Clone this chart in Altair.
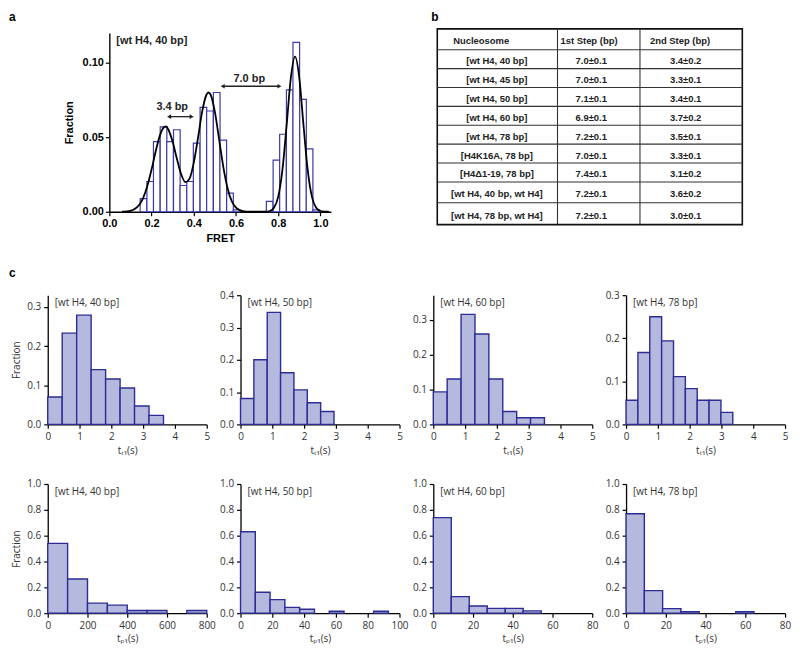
import altair as alt
import pandas as pd

# ---------------- panel a : FRET histogram ----------------
fret_bin_start = [0.146, 0.178, 0.209, 0.241, 0.272, 0.304, 0.335, 0.367, 0.398, 0.430,
                  0.461, 0.493, 0.524, 0.556, 0.587,
                  0.744, 0.776, 0.807, 0.839, 0.870, 0.902, 0.933, 0.965]
fret_bin_width = 0.0315
fret_fraction = [0.0088, 0.0203, 0.047, 0.057, 0.047, 0.055, 0.0176, 0.0203, 0.046, 0.070,
                 0.0676, 0.080, 0.048, 0.0125, 0.0013,
                 0.0069, 0.0346, 0.052, 0.0817, 0.1136, 0.0754, 0.0422, 0.0013]
fit_fret = [0.06, 0.08, 0.10, 0.12, 0.14, 0.16, 0.18, 0.20, 0.22, 0.24, 0.26, 0.27, 0.28, 0.30,
            0.32, 0.34, 0.36, 0.38, 0.40, 0.42, 0.44, 0.46, 0.47, 0.48, 0.50, 0.52, 0.54, 0.56,
            0.58, 0.60, 0.62, 0.64, 0.66, 0.70, 0.74, 0.76, 0.78, 0.80, 0.82, 0.84, 0.86,
            0.88, 0.90, 0.92, 0.94, 0.96, 0.98, 1.00, 1.02, 1.04]
fit_fraction = [0.0000, 0.0002, 0.0006, 0.0018, 0.0043, 0.0092, 0.0173, 0.0283, 0.0408,
                0.0514, 0.0568, 0.0573, 0.0550, 0.0469, 0.0355, 0.0253, 0.0199, 0.0222, 0.0329,
                0.0496, 0.0673, 0.0785, 0.0800, 0.0785, 0.0670, 0.0486, 0.0301, 0.0158, 0.0071,
                0.0028, 0.0009, 0.0002, 0.0000, 0.0000, 0.0001, 0.0005, 0.0027, 0.0100,
                0.0279, 0.0580, 0.0899, 0.1040, 0.0899, 0.0580, 0.0279, 0.0100, 0.0027,
                0.0005, 0.0001, 0.0000]
ann_text = ["3.4 bp", "7.0 bp"]
ann_x = [0.298, 0.663]
ann_y = [0.0704, 0.0893]
arrow_x1 = [0.283, 0.537]
arrow_x2 = [0.390, 0.806]
arrow_y = [0.0638, 0.0842]

# ---------------- table b ----------------
table_header = ["Nucleosome", "1st Step (bp)", "2nd Step (bp)"]
nucleosome = ["[wt H4, 40 bp]", "[wt H4, 45 bp]", "[wt H4, 50 bp]", "[wt H4, 60 bp]",
              "[wt H4, 78 bp]", "[H4K16A, 78 bp]", "[H4\u03941-19, 78 bp]",
              "[wt H4, 40 bp, wt H4]", "[wt H4, 78 bp, wt H4]"]
first_step = ["7.0\u00b10.1", "7.0\u00b10.1", "7.1\u00b10.1", "6.9\u00b10.1", "7.2\u00b10.1",
              "7.0\u00b10.1", "7.4\u00b10.1", "7.2\u00b10.1", "7.2\u00b10.1"]
second_step = ["3.4\u00b10.2", "3.3\u00b10.1", "3.4\u00b10.1", "3.7\u00b10.2", "3.5\u00b10.1",
               "3.3\u00b10.1", "3.1\u00b10.2", "3.6\u00b10.2", "3.0\u00b10.1"]

# ---------------- panel c : dwell time histograms ----------------
panel_labels = ["[wt H4, 40 bp]", "[wt H4, 50 bp]", "[wt H4, 60 bp]", "[wt H4, 78 bp]"]
tT1_bin_width = [0.455, 0.42, 0.437, 0.373]
tT1_fraction = [
    [0.070, 0.233, 0.279, 0.140, 0.116, 0.093, 0.047, 0.023],
    [0.080, 0.200, 0.347, 0.160, 0.107, 0.067, 0.040],
    [0.093, 0.130, 0.315, 0.259, 0.130, 0.037, 0.019, 0.019],
    [0.056, 0.167, 0.250, 0.194, 0.111, 0.083, 0.056, 0.056, 0.028],
]
tT1_xmax = [5, 5, 5, 5]
tT1_xticks = [[0, 1, 2, 3, 4, 5]] * 4
tT1_ymax = [0.33, 0.40, 0.37, 0.30]
tT1_yticks = [[0, 0.1, 0.2, 0.3], [0, 0.1, 0.2, 0.3, 0.4], [0, 0.1, 0.2, 0.3], [0, 0.1, 0.2, 0.3]]

tP1_bin_width = [100, 9.3, 9.05, 9.2]
tP1_fraction = [
    [0.540, 0.265, 0.078, 0.062, 0.021, 0.021, 0.0, 0.021],
    [0.630, 0.162, 0.105, 0.045, 0.030, 0.0, 0.015, 0.0, 0.0, 0.015],
    [0.740, 0.128, 0.056, 0.037, 0.037, 0.018],
    [0.770, 0.175, 0.035, 0.012, 0.0, 0.0, 0.012],
]
tP1_xmax = [800, 100, 80, 80]
tP1_xticks = [[0, 200, 400, 600, 800], [0, 20, 40, 60, 80, 100], [0, 20, 40, 60, 80], [0, 20, 40, 60, 80]]
tP1_ymax = [1.0, 1.0, 1.0, 1.0]
tP1_yticks = [[0, 0.2, 0.4, 0.6, 0.8, 1.0]] * 4

# ---------------- styles ----------------
BOLD_FONT = "Liberation Sans"
C_FONT = "Open Sans"
C_TEXT = "#333333"
FILL = "#b6b9de"
EDGE = "#2c2c94"


def one_row():
    return pd.DataFrame({"k": [0]})


def spacer(w):
    return alt.Chart(one_row()).mark_point(opacity=0).encode(
        x=alt.value(0), y=alt.value(0)).properties(width=w, height=10)


def note(text, x, y, size, bold=False, font=BOLD_FONT, color="black", baseline="top", opacity=1):
    return alt.Chart(one_row()).mark_text(
        text=text, align="left", baseline=baseline, font=font,
        fontWeight="bold" if bold else "normal", fontSize=size, color=color, opacity=opacity
    ).encode(x=alt.value(x), y=alt.value(y))


# ---------------- panel a ----------------
a_bars = pd.DataFrame({"start": fret_bin_start,
                       "end": [s + fret_bin_width for s in fret_bin_start],
                       "frac": fret_fraction,
                       "base": [0.0] * len(fret_bin_start)})
a_fit = pd.DataFrame({"fret": fit_fret, "frac": fit_fraction})
a_ann = pd.DataFrame({"text": ann_text, "x": ann_x, "y": ann_y})
a_arr = pd.DataFrame({"x1": arrow_x1, "x2": arrow_x2, "y": arrow_y})

ax_a = dict(labelFont=BOLD_FONT, labelFontWeight="bold", labelFontSize=11, labelColor="black",
            titleFont=BOLD_FONT, titleFontWeight="bold", titleFontSize=11, titleColor="black",
            domainColor="black", domainWidth=1.4, tickColor="black", tickWidth=1.2, tickSize=4,
            labelPadding=2, grid=False)
xs_a = alt.Scale(domain=[0, 1.05], nice=False, zero=False)
ys_a = alt.Scale(domain=[0, 0.12], nice=False)

bars_a = alt.Chart(a_bars).mark_rect(fill="white", stroke="#3a3aae", strokeWidth=1.2).encode(
    x=alt.X("start:Q", scale=xs_a,
            axis=alt.Axis(values=[0, 0.2, 0.4, 0.6, 0.8, 1.0], format=".1f", title="FRET",
                          labelFlush=False, titlePadding=4, **ax_a)),
    x2="end:Q",
    y=alt.Y("frac:Q", scale=ys_a,
            axis=alt.Axis(values=[0, 0.05, 0.10], format=".2f", title="Fraction",
                          titlePadding=8, **ax_a)),
    y2="base:Q",
)
fit_a = alt.Chart(a_fit).mark_line(color="black", strokeWidth=1.8, interpolate="monotone").encode(
    x=alt.X("fret:Q", scale=xs_a), y=alt.Y("frac:Q", scale=ys_a))
ann_a = alt.Chart(a_ann).mark_text(font=BOLD_FONT, fontWeight="bold", fontSize=11,
                                   color="#222222").encode(
    x=alt.X("x:Q", scale=xs_a), y=alt.Y("y:Q", scale=ys_a), text="text:N")
rule_a = alt.Chart(a_arr).mark_rule(color="#222222", strokeWidth=1.3).encode(
    x=alt.X("x1:Q", scale=xs_a), x2="x2:Q", y=alt.Y("y:Q", scale=ys_a))
left_head = alt.Chart(a_arr).mark_point(shape="triangle-left", filled=True, size=22,
                                        color="#222222", opacity=1).encode(
    x=alt.X("x1:Q", scale=xs_a), y=alt.Y("y:Q", scale=ys_a))
right_head = alt.Chart(a_arr).mark_point(shape="triangle-right", filled=True, size=22,
                                         color="#222222", opacity=1).encode(
    x=alt.X("x2:Q", scale=xs_a), y=alt.Y("y:Q", scale=ys_a))
label_a = note("[wt H4, 40 bp]", 7, 8, 11, bold=True, color="#222222", baseline="middle")
letter_a = note("a", -101, -21, 12, bold=True)
panel_a = alt.layer(bars_a, fit_a, rule_a, left_head, right_head, ann_a, label_a, letter_a
                    ).properties(width=223, height=180)

# ---------------- table b ----------------
col_edges = [0, 121, 204, 307]
row_edges = [0, 21, 40, 59, 78, 97, 116, 135, 154, 175, 197]
header_x = [16, 124, 214]
cell_x = [60, 155, 250]
tx = alt.Scale(domain=[0, 307], nice=False, zero=False)
ty = alt.Scale(domain=[4, 197], nice=False, zero=False, reverse=True)

hdr = pd.DataFrame({"x": header_x, "y": [12.5] * 3, "text": table_header})
cells = []
for i in range(len(nucleosome)):
    yc = (row_edges[i + 1] + row_edges[i + 2]) / 2 + 2
    for cx, txt in zip(cell_x, [nucleosome[i], first_step[i], second_step[i]]):
        cells.append({"x": cx, "y": yc, "text": txt})
cells = pd.DataFrame(cells)
hlines = pd.DataFrame({"x1": [col_edges[0]] * 9, "x2": [col_edges[-1]] * 9, "y": row_edges[1:-1]})
vlines = pd.DataFrame({"x": col_edges[1:-1], "y1": [row_edges[0]] * 2, "y2": [row_edges[-1]] * 2})
frame = pd.DataFrame({"x1": [col_edges[0]], "x2": [col_edges[-1]],
                      "y1": [row_edges[0]], "y2": [row_edges[-1]]})

t_frame = alt.Chart(frame).mark_rect(fill="white", stroke="#111111", strokeWidth=1.6).encode(
    x=alt.X("x1:Q", scale=tx, axis=None), x2="x2:Q",
    y=alt.Y("y1:Q", scale=ty, axis=None), y2="y2:Q")
t_h = alt.Chart(hlines).mark_rule(color="#333333", strokeWidth=1.1).encode(
    x=alt.X("x1:Q", scale=tx, axis=None), x2="x2:Q", y=alt.Y("y:Q", scale=ty, axis=None))
t_v = alt.Chart(vlines).mark_rule(color="#333333", strokeWidth=1.1).encode(
    x=alt.X("x:Q", scale=tx, axis=None), y=alt.Y("y1:Q", scale=ty, axis=None), y2="y2:Q")
t_hdr = alt.Chart(hdr).mark_text(align="left", baseline="middle", font=BOLD_FONT,
                                 fontWeight="bold", fontSize=9.5, color="#222222").encode(
    x=alt.X("x:Q", scale=tx, axis=None), y=alt.Y("y:Q", scale=ty, axis=None), text="text:N")
t_cells = alt.Chart(cells).mark_text(align="center", baseline="middle", font=BOLD_FONT,
                                     fontWeight="bold", fontSize=9.5, color="#222222").encode(
    x=alt.X("x:Q", scale=tx, axis=None), y=alt.Y("y:Q", scale=ty, axis=None), text="text:N")
letter_b = note("b", -6, -21, 12, bold=True)
table_b = alt.layer(t_frame, t_h, t_v, t_hdr, t_cells, letter_b).properties(width=307, height=193)

row1 = alt.hconcat(spacer(62), panel_a, spacer(107), table_b, spacing=0, bounds="flush")

# ---------------- panel c ----------------
ax_c = dict(labelFont=C_FONT, labelFontSize=10, labelColor=C_TEXT,
            titleFont=C_FONT, titleFontSize=10, titleFontWeight="normal", titleColor=C_TEXT,
            domainColor="black", domainWidth=1.3, tickColor="black", tickWidth=1.2, tickSize=4,
            labelPadding=3, grid=False)


def hist_panel(bw, fracs, xmax, xticks, ymax, yticks, label, xtitle, first_col, letter):
    rows = [{"start": i * bw, "end": (i + 1) * bw, "frac": f, "base": 0.0}
            for i, f in enumerate(fracs) if f > 0]
    df = pd.DataFrame(rows)
    if first_col:
        yaxis = alt.Axis(values=yticks, format=".1f", title="Fraction", titlePadding=5, **ax_c)
    else:
        yaxis = alt.Axis(values=yticks, format=".1f", title="", **ax_c)
    bars = alt.Chart(df).mark_rect(fill=FILL, stroke=EDGE, strokeWidth=1.4).encode(
        x=alt.X("start:Q", scale=alt.Scale(domain=[0, xmax], nice=False, zero=True),
                axis=alt.Axis(values=xticks, format="d", title=xtitle, labelFlush=False,
                              titlePadding=4, **ax_c)),
        x2="end:Q",
        y=alt.Y("frac:Q", scale=alt.Scale(domain=[0, ymax], nice=False), axis=yaxis),
        y2="base:Q",
    )
    lab = note(label, 7, 8, 10, font=C_FONT, color=C_TEXT, baseline="middle")
    layers = [bars, lab]
    if letter:
        layers.append(note(letter, -39, -27, 12, bold=True))
    return alt.layer(*layers).properties(width=160, height=130)


row2 = alt.hconcat(*[
    hist_panel(tT1_bin_width[k], tT1_fraction[k], tT1_xmax[k], tT1_xticks[k],
               tT1_ymax[k], tT1_yticks[k], panel_labels[k], "t\u209c\u2081(s)",
               k == 0, "c" if k == 0 else None) for k in range(4)], spacing=34, bounds="flush")
row3 = alt.hconcat(*[
    hist_panel(tP1_bin_width[k], tP1_fraction[k], tP1_xmax[k], tP1_xticks[k],
               tP1_ymax[k], tP1_yticks[k], panel_labels[k], "t\u209a\u2081(s)",
               k == 0, None) for k in range(4)], spacing=34, bounds="flush")

chart = alt.vconcat(row1, row2, row3, spacing=22).properties(
    padding=0, background="white"
).configure_view(stroke="transparent")

chart.save("out.html", embed_options={"renderer": "svg", "actions": False})
